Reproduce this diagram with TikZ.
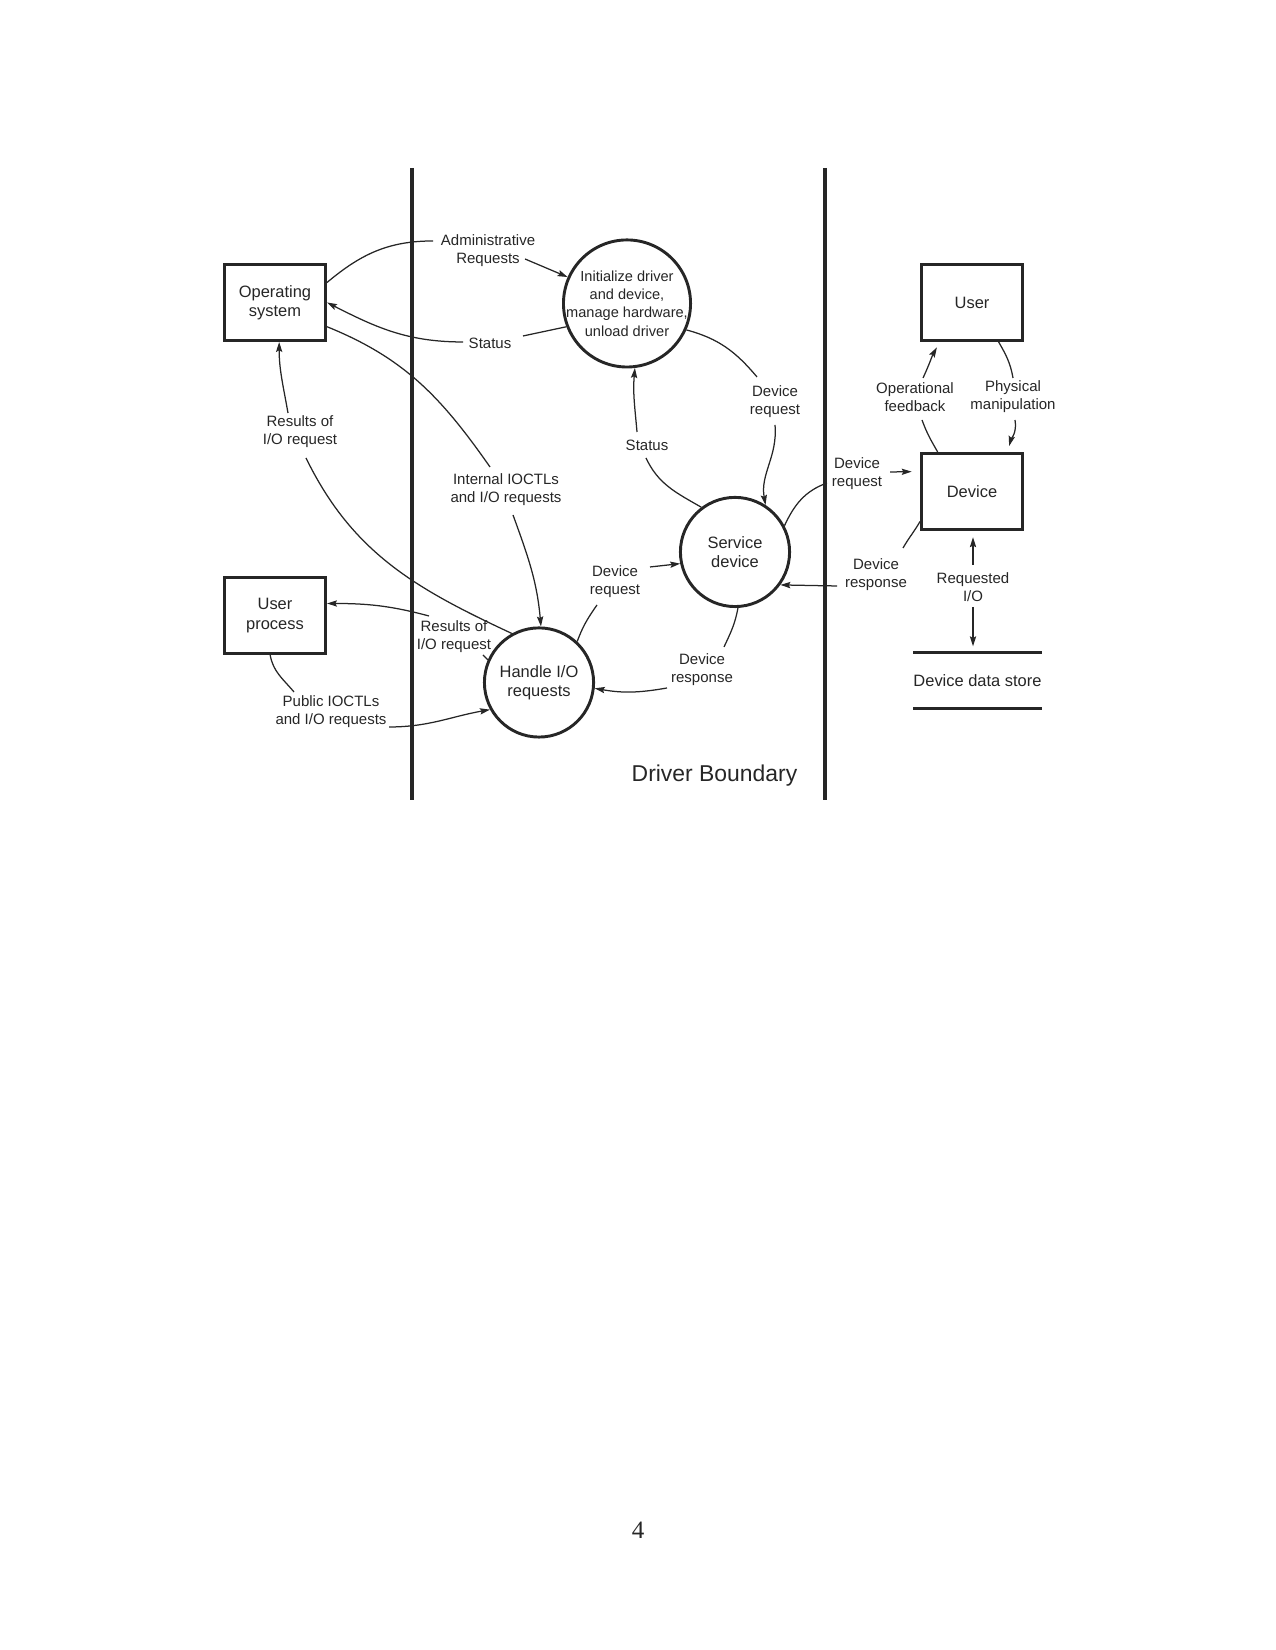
\documentclass[tikz,border=0pt]{standalone}
\usepackage{fontspec}
\setmainfont{Liberation Sans}
\newfontfamily\seriffont{Liberation Serif}
\usetikzlibrary{arrows.meta,calc}
\begin{document}
\begin{tikzpicture}[x=0.48pt,y=0.48pt,
  every node/.style={text=black!85},
  ent/.style={draw=black!85, line width=1.4pt, minimum width=48.5pt, minimum height=36.5pt, align=center, font=\fontsize{7.9}{9.3}\selectfont, inner sep=1pt},
  proc/.style={draw=black!85, circle, line width=1.4pt, align=center, font=\fontsize{7.9}{9.3}\selectfont, inner sep=0pt},
  lbl/.style={align=center, font=\fontsize{7.2}{8.6}\selectfont, inner sep=0pt},
  flow/.style={draw=black!85, line width=0.6pt},
  arr/.style={flow, -{Stealth[length=4.8pt,width=3pt,inset=0.8pt]}},
  boundary/.style={draw=black!85, line width=1.5pt}
]
\useasboundingbox (0,0) rectangle (1275,1650);

% boundaries
\coordinate (b1t) at (412,1482);
\coordinate (b1b) at (412,850);
\coordinate (b2t) at (825,1482);
\coordinate (b2b) at (825,850);
\draw[boundary] (b1t) -- (b1b);
\draw[boundary] (b2t) -- (b2b);
\node[font=\fontsize{11}{13}\selectfont, anchor=base] (db) at (714.5,868) {Driver Boundary};

% entities and processes
\node[ent] (os) at (275,1347.5) {Operating\\system};
\node[proc, minimum size=61pt, inner sep=-12pt, font=\fontsize{7.0}{8.8}\selectfont] (init) at (627,1346.5) {Initialize driver\\and device,\\manage hardware,\\unload driver};
\node[ent] (user) at (972,1347.5) {User};
\node[ent] (dev) at (972,1158.5) {Device};
\node[proc, minimum size=52.4pt] (svc) at (735,1098) {Service\\device};
\node[ent] (up) at (275,1034.5) {User\\process};
\node[proc, minimum size=52.4pt] (hio) at (539,967.5) {Handle I/O\\requests};
\node[font=\fontsize{7.9}{9.3}\selectfont, minimum width=58pt, minimum height=26.4pt, inner sep=0pt] (store) at (977.5,969.5) {Device data store};
\draw[line width=1.2pt, draw=black!85] (store.north west) -- (store.north east) (store.south west) -- (store.south east);

% labels
\node[lbl] (admin) at (488,1399) {Administrative\\Requests};
\node[lbl] (st1) at (490,1307) {Status};
\node[lbl] (intl) at (506,1160) {Internal IOCTLs\\and I/O requests};
\node[lbl] (res1) at (300,1218) {Results of\\I/O request};
\node[lbl] (res2) at (454,1013) {Results of\\I/O request};
\node[lbl] (pub) at (331,938) {Public IOCTLs\\and I/O requests};
\node[lbl] (dr1) at (615,1068) {Device\\request};
\node[lbl] (dp1) at (702,980) {Device\\response};
\node[lbl] (st2) at (647,1205) {Status};
\node[lbl] (dr2) at (775,1248) {Device\\request};
\node[lbl] (dr3) at (857,1176) {Device\\request};
\node[lbl] (dp2) at (876,1075) {Device\\response};
\node[lbl] (opf) at (915,1253) {Operational\\feedback};
\node[lbl] (phy) at (1013,1253) {Physical\\manipulation};
\node[lbl] (rio) at (973,1063) {Requested\\I/O};

% connectors
\draw[flow] (os.21) to[out=40,in=180] ([shift={(-55,10)}]admin.center);
\draw[arr] ([shift={(37,-8)}]admin.center) -- (init.156);

\draw[flow] (init.201) -- ([shift={(33,7)}]st1.center);
\draw[arr] ([shift={(-27,1)}]st1.center) to[out=180,in=-27] (os.east);

\draw[flow] (os.-25) to[out=-22,in=125] ([shift={(-16,23)}]intl.center);
\draw[arr] ([shift={(7,-25)}]intl.center) to[out=-70,in=95] (hio.88);

\draw[flow] (hio.119) to[out=155,in=-64] ([shift={(6,-26)}]res1.center);
\draw[arr] ([shift={(-12,19)}]res1.center) to[out=100,in=-90] (os.-84);

\draw[flow] (hio.156) -- ([shift={(29,-18)}]res2.center);
\draw[arr] ([shift={(-25,21)}]res2.center) to[out=165,in=0] (up.13);

\draw[flow] (up.-97) to[out=-80,in=130] ([shift={(-37,20)}]pub.center);
\draw[arr] ([shift={(58,-15)}]pub.center) to[out=0,in=190] (hio.209);

\draw[flow] (hio.47) to[out=70,in=-125] ([shift={(-18,-23)}]dr1.center);
\draw[arr] ([shift={(35,15)}]dr1.center) -- (svc.192);

\draw[flow] (svc.-87) to[out=-100,in=65] ([shift={(22,23)}]dp1.center);
\draw[arr] ([shift={(-35,-18)}]dp1.center) to[out=190,in=-10] (hio.-6);

\draw[flow] (svc.127) to[out=150,in=-65] ([shift={(-1,-13)}]st2.center);
\draw[arr] ([shift={(-10,13)}]st2.center) to[out=95,in=-95] (init.-83);

\draw[flow] (init.-24) to[out=-15,in=130] ([shift={(-18,25)}]dr2.center);
\draw[arr] ([shift={(0,-23)}]dr2.center) to[out=-85,in=100] (svc.57);

\draw[flow] (svc.28) to[out=65,in=200] ([shift={(-30,-9)}]dr3.center);
\draw[arr, shorten >=4pt] ([shift={(33,2)}]dr3.center) -- (dev.159);

\draw[flow] (dev.210) to[out=-120,in=60] ([shift={(27,27)}]dp2.center);
\draw[arr] ([shift={(-39,-11)}]dp2.center) -- (svc.-36);

\draw[flow] (dev.131) to[out=120,in=-70] ([shift={(7,-23)}]opf.center);
\draw[arr, shorten >=3pt] ([shift={(8,19)}]opf.center) to[out=65,in=-120] (user.-129);

\draw[flow] (user.-56) to[out=-60,in=100] ([shift={(0,19)}]phy.center);
\draw[arr, shorten >=3pt] ([shift={(2,-23)}]phy.center) to[out=-80,in=75] (dev.48);

\draw[arr, shorten >=3pt] ([shift={(0,22)}]rio.center) -- (rio.center |- dev.south);
\draw[arr, shorten >=3pt] ([shift={(0,-20)}]rio.center) -- (rio.center |- store.north);

% page number
\node[font=\seriffont\fontsize{12}{14}\selectfont] (pg) at (638,119.5) {4};
\end{tikzpicture}
\end{document}
